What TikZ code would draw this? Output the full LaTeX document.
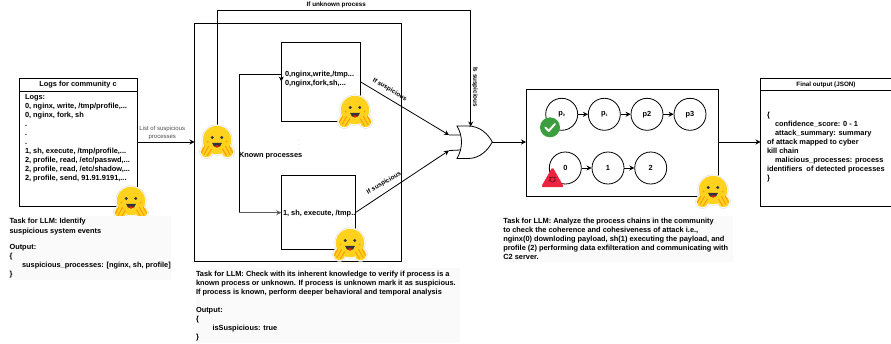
\documentclass[tikz,border=0pt]{standalone}
\usepackage{fontspec}
\setmainfont{Liberation Sans}
\usetikzlibrary{positioning,arrows.meta}
\definecolor{hugyellow}{HTML}{FFD21E}
\definecolor{hugorange}{HTML}{FF9D0B}
\definecolor{hugdark}{HTML}{32343D}
\definecolor{taskgray}{HTML}{FAFAFA}
\definecolor{okgreen}{HTML}{3C9E3F}
\definecolor{alertred}{HTML}{EC2440}
\tikzset{
  box/.style={draw, line width=0.9pt, inner sep=0pt, outer sep=0pt},
  arr/.style={-{Stealth[length=5pt,width=5pt]}, line width=0.8pt},
  logtext/.style={inner sep=0pt, outer sep=0pt, align=left, anchor=north west,
    font=\fontsize{7.4}{9}\selectfont\bfseries},
  taskbg/.style={fill=taskgray, inner sep=0pt, outer sep=0pt, anchor=north west},
  proc/.style={circle, draw, line width=0.8pt, minimum size=32pt, inner sep=0pt,
    font=\fontsize{7.4}{8}\selectfont\bfseries},
  edgelbl/.style={inner sep=0pt, font=\fontsize{6.3}{7.5}\selectfont\bfseries},
  hugface/.pic={
    \fill[white, draw=black!15, line width=0.4pt] (0,-2) circle (15.3);
    \foreach \s in {-1,1} {
      \fill[white, draw=black!15, line width=0.4pt] (\s*10.5,9.5) ellipse (7 and 7);
    }
    \fill[hugyellow] (0,-2) circle (14.2);
    \fill[hugdark] (-4.8,-4.5) circle (1.6) (4.8,-4.5) circle (1.6);
    \fill[hugorange] (-9.5,-0.5) circle (1) (9.5,-0.5) circle (1);
    \fill[hugdark] (-5,0.8) .. controls (-4,7) and (4,7) .. (5,0.8) -- cycle;
    \fill[red!80!orange] (-2.6,4) .. controls (-1.5,6) and (1.5,6) .. (2.6,4)
      .. controls (1,3) and (-1,3) .. (-2.6,4);
    \foreach \s in {-1,1} {
      \fill[hugyellow] (\s*10.5,9.5) ellipse (6 and 5.6);
      \draw[hugorange, line width=1pt, line cap=round]
        (\s*5.5,7) -- (\s*9.5,13.5) (\s*8.5,4.5) -- (\s*13,12.5) (\s*12.5,4.5) -- (\s*15.5,10.5);
    }
  },
}
\begin{document}
\begin{tikzpicture}[x=1pt, y=-1pt]
  \useasboundingbox (0,0) rectangle (891,343);
  % logs
  \node[box, minimum width=118pt, minimum height=128pt, anchor=north west] (logs) at (19,78) {};
  \node[box, minimum width=118pt, minimum height=13pt, anchor=north west] (logshead) at (19,78) {};
  \node[edgelbl, font=\fontsize{7.4}{8}\selectfont\bfseries] (logstitle) at (logshead.center) {Logs for community c};
  \node[logtext] (logslines) at (25,94.8) {Logs:\\0, nginx, write, /tmp/profile,...\\0, nginx, fork, sh\\.\\.\\.\\
    1, sh, execute, /tmp/profile,...\\2, profile, read, /etc/passwd,...\\2, profile, read, /etc/shadow,...\\
    2, profile, send, 91.91.9191,...};
  % known process check
  \node[box, minimum width=206.5pt, minimum height=237.5pt, anchor=north west] (check) at (194.5,23.7) {};
  \node[box, minimum width=79.5pt, minimum height=79pt, anchor=north west] (upper) at (281.3,42) {};
  \node[box, minimum width=74pt, minimum height=74pt, anchor=north west] (lower) at (281.3,175.3) {};
  \node[logtext] (uppertext) at (285,71) {0,nginx,write,/tmp...\\0,nginx,fork,sh,...};
  \node[logtext] (lowertext) at (283,209.7) {1, sh, execute, /tmp..};
  \node[logtext, anchor=west] (known) at (239,156) {Known processes};
  \node[text=black!40, inner sep=0pt, font=\fontsize{5}{5}\selectfont] (dots) at (299,142) {$\vdots$};
  % process chains
  \node[box, minimum width=192.3pt, minimum height=107pt, anchor=north west] (chains) at (526,89) {};
  \node[proc] (p0) at (561.7,114.3) {p\raisebox{-0.5pt}{\fontsize{3.5}{4}\selectfont 0}};
  \node[proc] (p1) at (604.3,114.3) {p\raisebox{-0.5pt}{\fontsize{3.5}{4}\selectfont 1}};
  \node[proc] (p2) at (647,114.3) {p2};
  \node[proc] (p3) at (690,114.3) {p3};
  \node[proc] (n0) at (565.3,168) {0};
  \node[proc] (n1) at (608,168) {1};
  \node[proc] (n2) at (650.7,168) {2};
  \path[arr]
    (p0) edge (p1) (p1) edge (p2) (p2) edge (p3)
    (n0) edge (n1) (n1) edge (n2);
  % final output
  \node[box, minimum width=131pt, minimum height=128pt, anchor=north west] (final) at (760.5,78.2) {};
  \node[box, minimum width=131pt, minimum height=12.5pt, anchor=north west] (finalhead) at (760.5,78.2) {};
  \node[edgelbl] (finaltitle) at (finalhead.center) {Final output (JSON)};
  \node[logtext] (finaltext) at (767,112.2) {\{\\\hspace*{8pt}confidence\_score: 0 - 1\\\hspace*{8pt}attack\_summary: summary\\
    of attack mapped to cyber\\kill chain\\\hspace*{8pt}malicious\_processes: process\\identifiers\ \ of detected processes\\\}};
  % or gate
  \coordinate (orin1) at (460.5,135);
  \coordinate (orin2) at (460.5,150);
  \coordinate (ortop) at (470.7,126.5);
  \coordinate (orout) at (492.3,142);
  \coordinate (oredge1) at (449,135);
  \coordinate (oredge2) at (449,150.5);
  \draw[line width=0.8pt] (457,126) -- (468,126) .. controls (480,126) and (488,134) .. (orout)
    .. controls (488,150) and (480,158.5) .. (468,158.5) -- (457,158.5)
    .. controls (463,148) and (463,136) .. (457,126) -- cycle;
  \draw[line width=0.8pt] (oredge1) -- (orin1) (oredge2) -- (orin2);
  % connectors
  \coordinate (unknownup) at (217,10);
  \coordinate (unknownright) at (470.7,10);
  \coordinate (knowntop) at (239,74);
  \coordinate (knownbot) at (239,212.7);
  \path[arr]
    (logs.east |- 0,142) edge node[edgelbl, font=\fontsize{6}{8.2}\selectfont, text=black!70, align=center, above=1.5pt, pos=0.44] (listlbl) {List of suspicious\\processes} (check.west |- 0,142)
    (lower.east |- 0,212.7) edge (oredge2)
    (upper.east |- 0,82) edge (oredge1)
    (orout) edge (chains.west |- orout)
    (chains.east |- orout) edge (final.west |- orout);
  \draw[arr] (217,130) -- (unknownup) -- (unknownright)
    node[edgelbl, pos=0.47, above=1.5pt] (unknownlbl) {If unknown process} -- (ortop);
  \node[edgelbl, rotate=-90] (suslbl) at (475,87) {Is suspicious};
  \node[edgelbl, rotate=-31] (upperlbl) at (389.7,89.7) {If suspicious};
  \node[edgelbl, rotate=30] (lowerlbl) at (384,183) {If suspicious};
  \draw[line width=0.8pt] (knownbot) -- (knowntop) -- (upper.west |- knowntop);
  \draw[arr] (281.3,74) -- (281.3,81.5);
  \draw[arr, line width=1.1pt, black!65] (knownbot) -- (lower.west |- knownbot);
  % icons
  \fill[okgreen] (550,127.3) circle (10);
  \draw[white, line width=1.9pt, line cap=round, line join=round] (545.3,127.5) -- (548.7,131) -- (555,124);
  \fill[alertred, rounded corners=1.5pt] (552.5,167) -- (564,187) -- (541,187) -- cycle;
  \draw[alertred!40!black, line width=0.5pt] (552.5,179.5) circle (2.6)
    (549,177) -- (550.3,178) (556,177) -- (554.7,178) (548.7,181) -- (550,180.5) (556.3,181) -- (555,180.5);
  \path (131,203) pic {hugface};
  \path (217,142) pic {hugface};
  \path (355,112) pic {hugface};
  \path (350,245) pic {hugface};
  \path (713,192) pic {hugface};
  % tasks
  \node[taskbg, minimum width=162pt, minimum height=64pt] (task1bg) at (9,216) {};
  \node[logtext] (task1) at (9.5,218) {Task for LLM: Identify\\[1pt]suspicious system events\\[7.5pt]Output:\\\{\\
    \hspace*{12.5pt}suspicious\_processes: [nginx, sh, profile]\\\}};
  \node[taskbg, minimum width=264pt, minimum height=75pt] (task2bg) at (196,268) {};
  \node[logtext] (task2) at (196,271.6) {Task for LLM: Check with its inherent knowledge to verify if process is a\\
    known process or unknown. If process is unknown mark it as suspicious.\\
    If process is known, perform deeper behavioral and temporal analysis\\[9pt]Output:\\\{\\
    \hspace*{16.5pt}isSuspicious: true\\\}};
  \node[taskbg, minimum width=230pt, minimum height=46pt] (task3bg) at (503,216) {};
  \node[logtext] (task3) at (503.3,217.7) {Task for LLM: Analyze the process chains in the community\\
    to check the coherence and cohesiveness of attack i.e.,\\
    nginx(0) downloding payload, sh(1) executing the payload, and\\
    profile (2) performing data exfilteration and communicating with\\C2 server.};
\end{tikzpicture}
\end{document}
